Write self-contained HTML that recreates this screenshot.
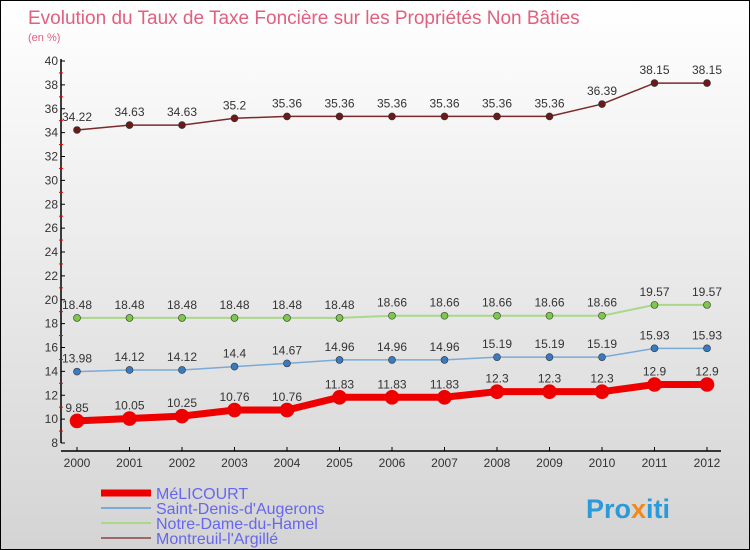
<!DOCTYPE html>
<html><head><meta charset="utf-8"><style>
body{margin:0}
#c{width:750px;height:550px;position:relative;background:linear-gradient(#fff,#d4d4d4);font-family:"Liberation Sans",sans-serif;overflow:hidden;box-sizing:border-box;border:1px solid #000}
text{font-family:"Liberation Sans",sans-serif}
</style></head><body>
<div id="c">
<svg id="s" width="750" height="550">
<text x="27" y="23" font-size="19" fill="#e0607e">Evolution du Taux de Taxe Foncière sur les Propriétés Non Bâties</text>
<text x="27" y="40" font-size="11" fill="#e0607e">(en %)</text>
<text x="585" y="517" font-size="27" font-weight="bold" fill="#2a9ad8">Pro<tspan fill="#f08a1a">x</tspan>iti</text>
</svg>
</div>
<script>
const years=["2000","2001","2002","2003","2004","2005","2006","2007","2008","2009","2010","2011","2012"];
const yTicks=[8,10,12,14,16,18,20,22,24,26,28,30,32,34,36,38,40];
const melicourt=[9.85,10.05,10.25,10.76,10.76,11.83,11.83,11.83,12.3,12.3,12.3,12.9,12.9];
const saintDenis=[13.98,14.12,14.12,14.4,14.67,14.96,14.96,14.96,15.19,15.19,15.19,15.93,15.93];
const notreDame=[18.48,18.48,18.48,18.48,18.48,18.48,18.66,18.66,18.66,18.66,18.66,19.57,19.57];
const montreuil=[34.22,34.63,34.63,35.2,35.36,35.36,35.36,35.36,35.36,35.36,36.39,38.15,38.15];
const names=["MéLICOURT","Saint-Denis-d'Augerons","Notre-Dame-du-Hamel","Montreuil-l'Argillé"];
const s=document.getElementById('s');const NS="http://www.w3.org/2000/svg";
const X=i=>76+i*52.5, Y=v=>60+(40-v)*(382/32);
function el(t,a,p){const e=document.createElementNS(NS,t);for(const k in a)e.setAttribute(k,a[k]);(p||s).appendChild(e);return e;}
let ax=el('line',{x1:60,y1:58,x2:60,y2:442,stroke:'#000','stroke-width':1.5});

let bx=el('line',{x1:60,y1:450,x2:720,y2:450,stroke:'#000','stroke-width':1.5});

yTicks.forEach((v,i)=>{el('line',{x1:60,y1:Y(v),x2:64,y2:Y(v),stroke:'#000'});
 if(i<yTicks.length-1)el('line',{x1:58,y1:Y(v+1),x2:62,y2:Y(v+1),stroke:'#e00'});
 const t=el('text',{x:57,y:Y(v)+4,'font-size':12,'text-anchor':'end',fill:'#333'});t.textContent=v;
 });
years.forEach((y,i)=>{el('line',{x1:X(i),y1:446,x2:X(i),y2:450,stroke:'#000'});
 const t=el('text',{x:X(i),y:466,'font-size':12,'text-anchor':'middle',fill:'#333'});t.textContent=y;
 });
const series=[[montreuil,'#7a2a2a','#6b1a1a',1.5,3.5,'montreuil'],[notreDame,'#a8d888','#7cc84a',2,3.5,'notre-dame'],[saintDenis,'#7aaad8','#3a7ac0',1.5,3.5,'saint-denis'],[melicourt,'#ee0000','#ee0000',7,7,'melicourt']];
series.forEach(([d,lc,pc,w,r,n])=>{
 const p=el('polyline',{points:d.map((v,i)=>X(i)+','+Y(v)).join(' '),fill:'none',stroke:lc,'stroke-width':w});
 
 d.forEach((v,i)=>{const c=el('circle',{cx:X(i),cy:Y(v),r:r,fill:pc,stroke:n=='melicourt'?'#ee0000':'#333','stroke-width':0.6});
  
  const t=el('text',{x:X(i),y:Y(v)-9,'font-size':12,'text-anchor':'middle',fill:'#333'});t.textContent=v;
  });
});
const lg=[['#ee0000',7],['#7aaad8',2],['#a8d888',2],['#9a6a6a',2]];
lg.forEach(([c,w],i)=>{const y=492+i*15;
 const l=el('line',{x1:100,y1:y,x2:150,y2:y,stroke:c,'stroke-width':w});
 
 const t=el('text',{x:155,y:y+6,'font-size':16,fill:'#6666ee'});t.textContent=names[i];
 });
</script>
</body></html>
